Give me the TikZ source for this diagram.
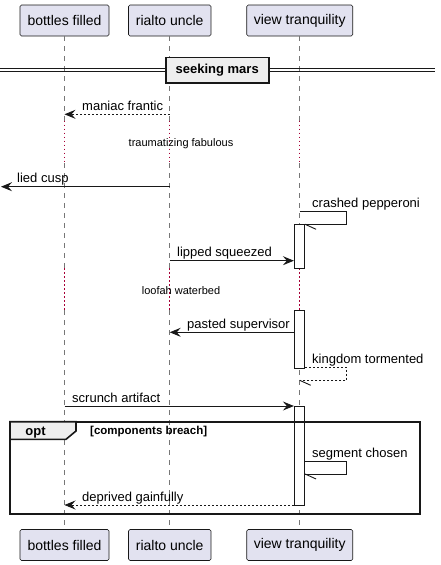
\documentclass[tikz,border=0pt]{standalone}
\usepackage{fontspec}
\setmainfont{Liberation Sans}
\usepackage{xcolor}
\usetikzlibrary{arrows.meta,positioning,calc}

\definecolor{partfill}{HTML}{E2E2F0}
\definecolor{partline}{HTML}{181818}
\definecolor{grpfill}{HTML}{EEEEEE}
\definecolor{delaycol}{HTML}{A80036}
\definecolor{lifecol}{HTML}{777777}

\begin{document}
\begin{tikzpicture}[
    x=1pt, y=-1pt,
    participant/.style={rectangle, rounded corners=1.5pt, draw=partline, fill=partfill, line width=0.6pt,
        minimum height=31pt, inner sep=0pt, font=\fontsize{14}{16}\selectfont},
    lifeline/.style={draw=lifecol, line width=0.8pt, dash pattern=on 5pt off 5pt},
    delayline/.style={draw=delaycol, line width=1pt, dash pattern=on 1.3pt off 2.7pt},
    activation/.style={rectangle, draw=partline, fill=white, line width=0.9pt, minimum width=10.3pt, inner sep=0pt, anchor=north},
    msg/.style={draw=partline, line width=0.9pt, -{Stealth[length=11pt, width=9pt, inset=4pt]}},
    ret/.style={msg, dash pattern=on 2pt off 2pt},
    selfmsg/.style={draw=partline, line width=0.9pt},
    selfret/.style={selfmsg, dash pattern=on 2pt off 2pt},
    lbl/.style={anchor=base west, inner sep=0pt, font=\fontsize{13}{15}\selectfont},
    dellbl/.style={inner sep=0pt, font=\fontsize{11}{13}\selectfont},
    grp/.style={draw=partline, line width=1.6pt}
]
    \useasboundingbox (0,0) rectangle (440,565);

    % participants, top and bottom
    \node[participant, minimum width=89pt] (pbottles) at (64.5,20.5) {bottles filled};
    \node[participant, minimum width=82.5pt] (prialto) at (169.7,20.5) {rialto uncle};
    \node[participant, minimum width=106pt] (pview) at (299.7,20.5) {view tranquility};
    \node[participant, minimum width=89pt] (qbottles) at (64.5,545) {bottles filled};
    \node[participant, minimum width=82.5pt] (qrialto) at (169.7,545) {rialto uncle};
    \node[participant, minimum width=106pt] (qview) at (299.7,545) {view tranquility};

    % delay rows
    \coordinate (d1a) at (0,120.7);
    \coordinate (d1b) at (0,163);
    \coordinate (d2a) at (0,268.3);
    \coordinate (d2b) at (0,310);

    \foreach \p/\q in {pbottles/qbottles, prialto/qrialto, pview/qview} {
        \draw[lifeline] (\p.south) -- (\p |- d1a);
        \draw[delayline] (\p |- d1a) -- (\p |- d1b);
        \draw[lifeline] (\p |- d1b) -- (\p |- d2a);
        \draw[delayline] (\p |- d2a) -- (\p |- d2b);
        \draw[lifeline] (\p |- d2b) -- (\q.north);
    }

    % divider
    \coordinate (divl) at (0,70);
    \coordinate (divr) at (435,70);
    \draw[partline, line width=0.9pt] ([yshift=-1.7pt]divl) -- ([yshift=-1.7pt]divr);
    \draw[partline, line width=0.9pt] ([yshift=1.7pt]divl) -- ([yshift=1.7pt]divr);
    \node[rectangle, draw=partline, fill=grpfill, line width=1.6pt, minimum width=103pt, minimum height=25.4pt,
        inner sep=0pt, font=\fontsize{13}{15}\selectfont\bfseries] (divider) at (217.2,70) {seeking mars};

    % activations
    \node[activation, minimum height=44.3pt] (act1) at (299.5,224) {};
    \node[activation, minimum height=58.3pt] (act2) at (299.5,310) {};
    \node[activation, minimum height=99pt] (act3) at (299.5,406) {};

    % message rows
    \coordinate (m1) at (0,114.3);
    \coordinate (m3) at (0,186.7);
    \coordinate (m4) at (346.7,211.7);
    \coordinate (m5) at (346.7,224.3);
    \coordinate (m6) at (0,260.7);
    \coordinate (m7) at (0,332.3);
    \coordinate (m8) at (346.7,367.3);
    \coordinate (m9) at (346.7,380.3);
    \coordinate (m10) at (0,406);
    \coordinate (m11) at (346.7,461);
    \coordinate (m12) at (346.7,474);
    \coordinate (m13) at (0,505);
    \coordinate (edge) at (1,186.7);

    \draw[ret] (prialto |- m1) -- (pbottles |- m1);
    \node[lbl] (l1) at (82,110) {maniac frantic};
    \node[dellbl] (dl1) at (181,144) {traumatizing fabulous};
    \draw[msg] (prialto |- m3) -- (edge);
    \node[lbl] (l3) at (17,182.5) {lied cusp};
    \draw[selfmsg] (pview |- m4) -- (m4) -- (m5) -- (act1.east |- m5);
    \draw[selfmsg] (act1.east |- m5) -- ++(11,5);
    \node[lbl] (l4) at (312,207.5) {crashed pepperoni};
    \draw[msg] (prialto |- m6) -- (act1.west |- m6);
    \node[lbl] (l6) at (177,256.5) {lipped squeezed};
    \node[dellbl] (dl2) at (181,290.3) {loofah waterbed};
    \draw[msg] (act2.west |- m7) -- (prialto |- m7);
    \node[lbl] (l7) at (187,328) {pasted supervisor};
    \draw[selfret] (act2.east |- m8) -- (m8) -- (m9) -- (pview |- m9);
    \draw[selfmsg] (pview |- m9) -- ++(11,5);
    \node[lbl] (l8) at (312,363.5) {kingdom tormented};
    \draw[msg] (pbottles |- m10) -- (act3.west |- m10);
    \node[lbl] (l10) at (72,402) {scrunch artifact};

    % opt group
    \draw[grp] (10,421.7) rectangle (420,514);
    \draw[grp, fill=grpfill] (10,421.7) -- (76,421.7) -- (76,431) -- (66,439.3) -- (10,439.3) -- cycle;
    \node[inner sep=0pt, anchor=base, font=\fontsize{13}{15}\selectfont\bfseries] (optlbl) at (35.5,435) {opt};
    \node[inner sep=0pt, anchor=base west, font=\fontsize{11.5}{13}\selectfont\bfseries] (cond) at (90,434.5) {[components breach]};

    \draw[selfmsg] (act3.east |- m11) -- (m11) -- (m12) -- (act3.east |- m12);
    \draw[selfmsg] (act3.east |- m12) -- ++(11,5);
    \node[lbl] (l11) at (312,457) {segment chosen};
    \draw[ret] (act3.west |- m13) -- (pbottles |- m13);
    \node[lbl] (l13) at (82,501) {deprived gainfully};
\end{tikzpicture}
\end{document}
